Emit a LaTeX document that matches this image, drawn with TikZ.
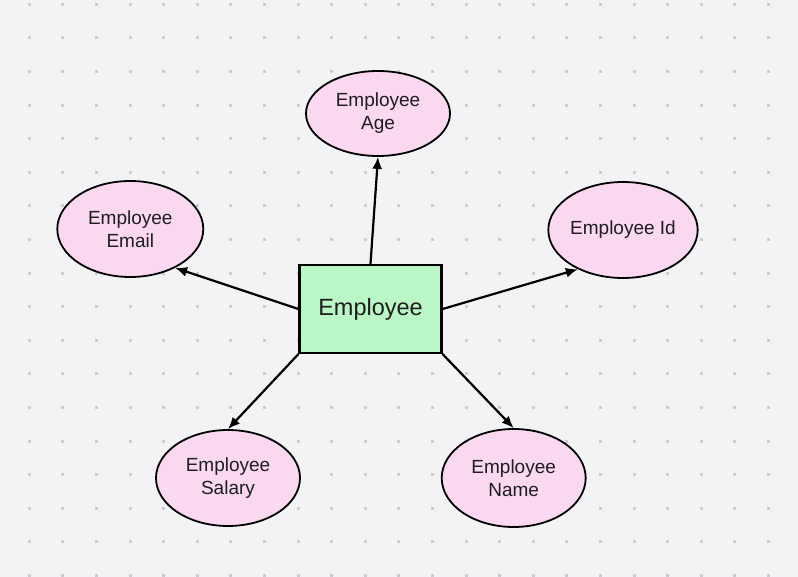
\documentclass[tikz,border=0pt]{standalone}
\usepackage{fontspec}
\setmainfont{Liberation Sans}
\usetikzlibrary{shapes.geometric,arrows.meta}
\definecolor{canvas}{HTML}{F3F3F5}
\definecolor{griddot}{HTML}{CDCDD1}
\definecolor{attrpink}{HTML}{F9D8F0}
\definecolor{entgreen}{HTML}{BBF7C6}
\definecolor{inktext}{HTML}{1E1E1E}
\tikzset{%
  >={Latex[length=12pt,width=10pt]}, % filled arrow tips
  attr/.style={draw,ellipse,fill=attrpink,line width=1.8pt,
    minimum width=144pt,minimum height=96pt,inner sep=0pt,
    align=center,text=inktext,font=\fontsize{19}{23}\selectfont},%
  entity/.style={draw,rectangle,fill=entgreen,line width=2.2pt,
    minimum width=142pt,minimum height=88pt,inner sep=0pt,
    text=inktext,font=\fontsize{23.5}{28}\selectfont},%
  link/.style={->,line width=2.2pt}%
}

\begin{document}
\begin{tikzpicture}[x=1pt,y=-1pt] % ER: Employee

\fill[canvas] (0,0) rectangle (798,577);
\useasboundingbox (0,0) rectangle (798,577);

% dotted canvas
\foreach \i in {0,...,22}
  \foreach \j in {0,...,17}
    \fill[griddot] (29.3+33.6*\i-1.5,4.3+33.6*\j-1.5) rectangle +(3,3);

\node[entity] (emp) at (370.5,309) {Employee};

\node[attr,minimum height=85pt] (age) at (378,113.5) {Employee\\Age};
\node[attr,minimum width=146pt] (email) at (130.3,229) {Employee\\Email};
\node[attr,minimum width=142pt] (id) at (623,230) {Employee Id};
\node[attr] (salary) at (228,478) {Employee\\Salary};
\node[attr,minimum height=98pt] (name) at (513.7,478) {Employee\\Name};

\draw[link] (emp.north) -- (age.south);
\draw[link] (emp.west) -- (email.-41);
\draw[link] (emp.east) -- (id.221);
\draw[link] (emp.south west) -- (salary.north);
\draw[link] (emp.south east) -- (name.north);

\end{tikzpicture}
\end{document}
